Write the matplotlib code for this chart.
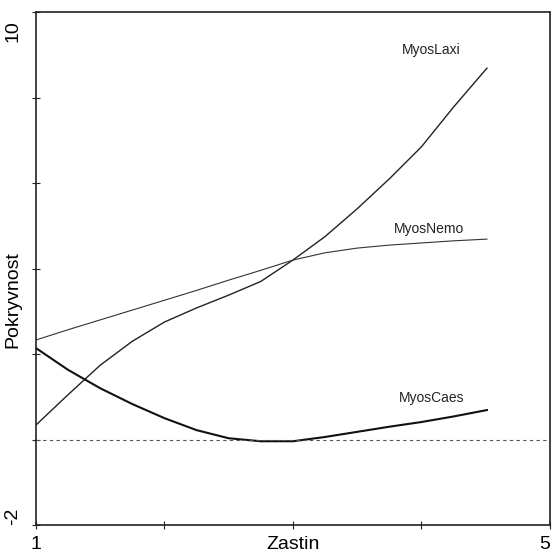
"""Cover of three Myosotis species along the shading gradient."""
import numpy as np
import matplotlib
matplotlib.use("Agg")
import matplotlib.pyplot as plt

plt.rcParams['font.family'] = ['Liberation Sans', 'DejaVu Sans']

# response curves read along the shading axis
zastin = [1.0, 1.25, 1.5, 1.75, 2.0, 2.25, 2.5, 2.75, 3.0, 3.25, 3.5, 3.75, 4.0, 4.25, 4.51]
myos_laxi = [0.34, 1.05, 1.74, 2.30, 2.75, 3.08, 3.38, 3.70, 4.20, 4.75, 5.40, 6.10, 6.85, 7.78, 8.69]
myos_nemo = [2.33, 2.57, 2.80, 3.03, 3.26, 3.49, 3.73, 3.96, 4.20, 4.37, 4.48, 4.55, 4.60, 4.65, 4.69]
myos_caes = [2.14, 1.63, 1.20, 0.83, 0.50, 0.22, 0.03, -0.04, -0.04, 0.06, 0.18, 0.30, 0.41, 0.54, 0.69]

names = ["MyosLaxi", "MyosNemo", "MyosCaes"]
label_pos = [(4.08, 9.12), (4.06, 4.92), (4.08, 0.98)]


def main():
    fig = plt.figure(figsize=(5.52, 5.52), dpi=100)
    ax = fig.add_axes([0.0652, 0.0489, 0.931, 0.929])

    ax.plot(zastin, myos_laxi, color="#222222", lw=1.0)
    ax.plot(zastin, myos_nemo, color="#333333", lw=0.8)
    ax.plot(zastin, myos_caes, color="#111111", lw=1.5)
    ax.axhline(0, color="#555555", lw=0.8, ls=(0, (3, 3)))

    for name, (x, y) in zip(names, label_pos):
        ax.text(x, y, name, fontsize=10, ha="center", va="center", color="#222222")

    ax.set_xlim(1, 5)
    ax.set_ylim(-2, 10)
    ax.set_xticks([1, 2, 3, 4, 5])
    ax.set_yticks(np.arange(-2, 11, 2))
    ax.set_xticklabels([])
    ax.set_yticklabels([])
    ax.tick_params(direction="inout", length=6, width=0.8, color="#222222")
    for s in ax.spines.values():
        s.set_linewidth(1.2)
        s.set_color("#222222")

    # axis texts placed by hand at the corners
    ax.text(-0.045, 0.985, "10", transform=ax.transAxes, rotation=90, fontsize=14,
            ha="center", va="top")
    ax.text(-0.045, 0.0, "-2", transform=ax.transAxes, rotation=90, fontsize=14,
            ha="center", va="bottom")
    ax.text(0.0, -0.022, "1", transform=ax.transAxes, fontsize=14, ha="center", va="top")
    ax.text(0.99, -0.022, "5", transform=ax.transAxes, fontsize=14, ha="center", va="top")
    ax.text(0.5, -0.022, "Zastin", transform=ax.transAxes, fontsize=14, ha="center", va="top")
    ax.text(-0.045, 0.44, "Pokryvnost", transform=ax.transAxes, rotation=90, fontsize=14,
            ha="center", va="center")

    fig.savefig("out.png", dpi=100)


if __name__ == "__main__":
    main()
